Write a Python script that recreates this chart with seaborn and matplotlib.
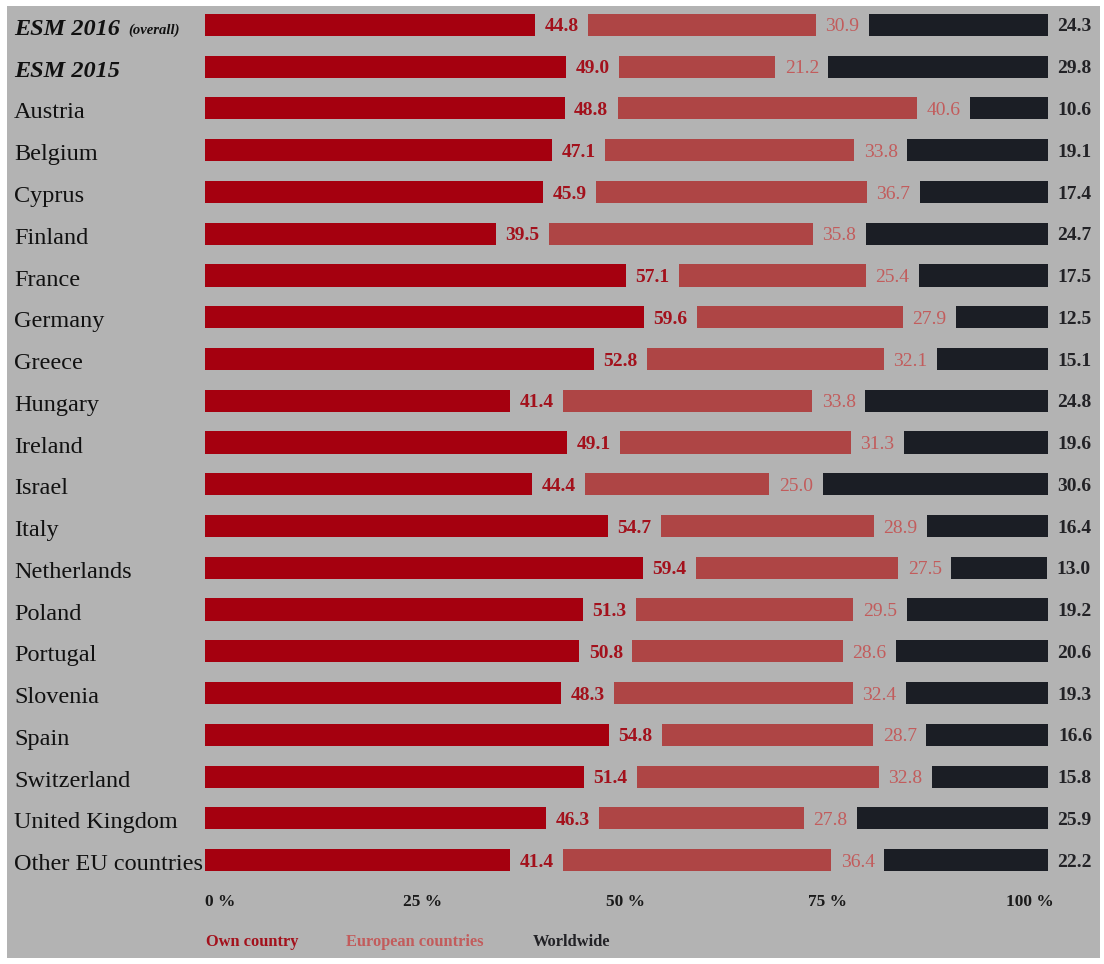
import numpy as np
import pandas as pd
import matplotlib
matplotlib.use("Agg")
import matplotlib.pyplot as plt
import matplotlib.transforms as mtransforms
from matplotlib.patches import Rectangle
import seaborn as sns

# ---------------- data ----------------
categories = ["ESM 2016", "ESM 2015", "Austria", "Belgium", "Cyprus", "Finland",
              "France", "Germany", "Greece", "Hungary", "Ireland", "Israel", "Italy",
              "Netherlands", "Poland", "Portugal", "Slovenia", "Spain", "Switzerland",
              "United Kingdom", "Other EU countries"]
own_country = [44.8, 49.0, 48.8, 47.1, 45.9, 39.5, 57.1, 59.6, 52.8, 41.4, 49.1,
               44.4, 54.7, 59.4, 51.3, 50.8, 48.3, 54.8, 51.4, 46.3, 41.4]
european = [30.9, 21.2, 40.6, 33.8, 36.7, 35.8, 25.4, 27.9, 32.1, 33.8, 31.3,
            25.0, 28.9, 27.5, 29.5, 28.6, 32.4, 28.7, 32.8, 27.8, 36.4]
worldwide = [24.3, 29.8, 10.6, 19.1, 17.4, 24.7, 17.5, 12.5, 15.1, 24.8, 19.6,
             30.6, 16.4, 13.0, 19.2, 20.6, 19.3, 16.6, 15.8, 25.9, 22.2]
tick_labels = ["0 %", "25 %", "50 %", "75 %", "100 %"]
legend_labels = ["Own country", "European countries", "Worldwide"]
highlight = {"ESM 2016": "(overall)", "ESM 2015": ""}

# ---------------- style ----------------
BG = "#b3b3b3"
C_OWN, C_EUR, C_WW = "#a5000f", "#ae4545", "#1b1e25"
T_OWN, T_EUR, T_WW = "#a3111c", "#c25c5c", "#222226"
GAP = 7.2          # room for the value label between segments (in % units)
BAR_H = 0.53

sns.set_theme(style="white")
plt.rcParams["font.family"] = ["Liberation Serif", "DejaVu Serif"]

W, H = 1104, 964
fig = plt.figure(figsize=(W / 100, H / 100), dpi=100, facecolor="white")
fig.patches.append(Rectangle((7 / W, 6 / H), (1100 - 7) / W, (958 - 6) / H,
                             transform=fig.transFigure, facecolor=BG,
                             edgecolor="none", zorder=-5))

ax = fig.add_axes([205 / W, 1 - 881 / H, 843 / W, 877 / H])
ax.set_facecolor("none")

df = pd.DataFrame({"category": categories, "own": own_country,
                   "european": european, "worldwide": worldwide})
sns.barplot(data=df, y="category", x="own", orient="h", color=C_OWN,
            saturation=1, width=BAR_H, linewidth=0, ax=ax)

ypos = np.arange(len(categories))
own_a = np.array(own_country)
eur_a = np.array(european)
ww_a = np.array(worldwide)
ax.barh(ypos, eur_a, left=own_a + GAP, height=BAR_H, color=C_EUR, linewidth=0)
ax.barh(ypos, ww_a, left=own_a + eur_a + 2 * GAP, height=BAR_H, color=C_WW, linewidth=0)

VOFF = 0.05
for i in range(len(categories)):
    ax.text(own_a[i] + GAP / 2, i + VOFF, f"{own_a[i]:.1f}", ha="center", va="center",
            color=T_OWN, fontsize=14, fontweight="bold", clip_on=False)
    ax.text(own_a[i] + eur_a[i] + 1.5 * GAP, i + VOFF, f"{eur_a[i]:.1f}", ha="center",
            va="center", color=T_EUR, fontsize=14, clip_on=False)
    ax.text(own_a[i] + eur_a[i] + ww_a[i] + 2.5 * GAP, i + VOFF, f"{ww_a[i]:.1f}",
            ha="center", va="center", color=T_WW, fontsize=14,
            fontweight="bold", clip_on=False)

ax.set_xlim(0, 100 + 2 * GAP)
ax.set_ylim(len(categories) - 0.5, -0.5)
for s in ax.spines.values():
    s.set_visible(False)
ax.set_yticks([])
ax.set_ylabel("")
ax.set_xlabel("")
tick_pos = np.linspace(2.0, 112.0, len(tick_labels))
ax.set_xticks(tick_pos, tick_labels)
ax.tick_params(axis="x", length=0, pad=9, labelsize=12.5, labelcolor="#1a1a1a")
for t in ax.get_xticklabels():
    t.set_fontweight("bold")

# category labels
trans = mtransforms.blended_transform_factory(fig.transFigure, ax.transData)
LOFF = 0.11
for i, c in enumerate(categories):
    if c in highlight:
        t = ax.text(14 / W, i + LOFF, c, transform=trans, ha="left", va="center",
                    fontsize=17.5, fontweight="bold", fontstyle="italic",
                    color="#111111")
        if highlight[c]:
            ax.annotate(highlight[c], xy=(1, 0), xycoords=t, xytext=(6, 2),
                        textcoords="offset points", ha="left", va="bottom",
                        fontsize=10.5, fontweight="bold", fontstyle="italic",
                        color="#111111")
    else:
        ax.text(14 / W, i + LOFF, c, transform=trans, ha="left", va="center",
                fontsize=17.5, color="#111111")

# legend
for x, lab, col in zip([206, 346, 533], legend_labels, [T_OWN, T_EUR, T_WW]):
    fig.text(x / W, 1 - 942 / H, lab, ha="left", va="center", fontsize=11.8,
             fontweight="bold", color=col)

fig.savefig("out.png", dpi=100, facecolor="white")
